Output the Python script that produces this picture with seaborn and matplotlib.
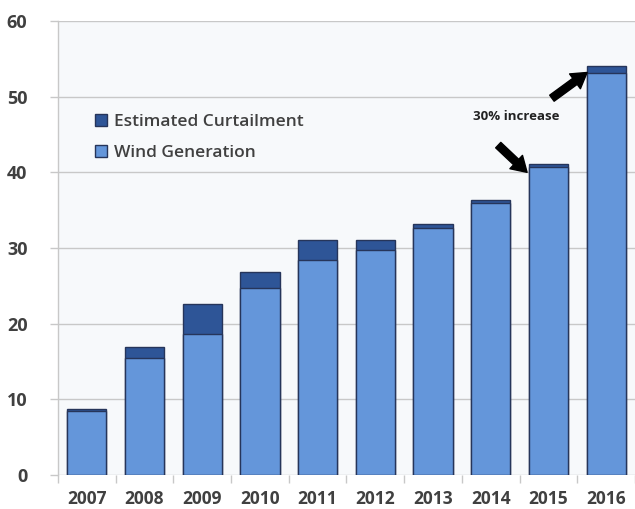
import numpy as np
import pandas as pd
import seaborn as sns
import matplotlib.pyplot as plt
from matplotlib.patches import Patch
from matplotlib.ticker import FixedLocator

years = ["2007", "2008", "2009", "2010", "2011", "2012", "2013", "2014", "2015", "2016"]
wind_generation = [8.5, 15.5, 18.7, 24.7, 28.4, 29.7, 32.7, 36.0, 40.7, 53.1]
estimated_curtailment = [0.2, 1.4, 3.9, 2.1, 2.6, 1.3, 0.5, 0.3, 0.4, 0.9]

wind_color = "#6496DA"
curtail_color = "#2E5597"
edge_color = "#26355A"
text_color = "#404040"

df = pd.DataFrame({"year": years, "wind": wind_generation, "curtail": estimated_curtailment})
df["total"] = df["wind"] + df["curtail"]

sns.set_theme(style="white")
plt.rcParams["font.family"] = ["Open Sans", "DejaVu Sans"]

fig = plt.figure(figsize=(6.35, 5.09), dpi=100)
ax = fig.add_axes([0.0913, 0.0668, 0.9087, 0.8919])
ax.set_facecolor("#F7F9FB")

# dark bar = total, light bar drawn over it = wind only
sns.barplot(data=df, x="year", y="total", color=curtail_color, width=0.68,
            edgecolor=edge_color, linewidth=1, saturation=1, ax=ax)
sns.barplot(data=df, x="year", y="wind", color=wind_color, width=0.68,
            edgecolor=edge_color, linewidth=1, saturation=1, ax=ax)

ax.set_xlim(-0.5, len(years) - 0.5)
ax.set_ylim(0, 60)
ax.set_yticks(range(0, 61, 10))
ax.yaxis.grid(True, color="#C8C8C8", linewidth=1)
ax.set_axisbelow(True)
ax.set_xlabel("")
ax.set_ylabel("")

for side in ["top", "right", "bottom"]:
    ax.spines[side].set_visible(False)
ax.spines["left"].set_color("#C8C8C8")
ax.spines["left"].set_linewidth(1)

ax.tick_params(axis="y", length=6, color="#C8C8C8", width=1, pad=16,
               labelsize=13, labelcolor=text_color, left=True)
ax.tick_params(axis="x", length=0, pad=11, labelsize=12.5, labelcolor=text_color)
for lbl in ax.get_xticklabels() + ax.get_yticklabels():
    lbl.set_fontweight("bold")

ax.xaxis.set_minor_locator(FixedLocator(np.arange(-0.5, len(years), 1.0)))
ax.tick_params(axis="x", which="minor", length=6, color="#C8C8C8", width=1, bottom=True)

handles = [Patch(facecolor=curtail_color, edgecolor=edge_color, label="Estimated Curtailment"),
           Patch(facecolor=wind_color, edgecolor=edge_color, label="Wind Generation")]
leg = ax.legend(handles=handles, loc="upper left", bbox_to_anchor=(0.037, 0.83),
                frameon=False, fontsize=12.5, handlelength=0.7, handleheight=0.7,
                handletextpad=0.4, labelspacing=0.85)
for t in leg.get_texts():
    t.set_color(text_color)
    t.set_fontweight("semibold")

ax.text(7.45, 47.4, "30% increase", ha="center", va="center",
        fontsize=9.5, fontweight="bold", color="#222222")
arrow = dict(arrowstyle="simple,head_width=1.1,head_length=0.9,tail_width=0.45",
             color="black", shrinkA=0, shrinkB=0)
ax.annotate("", xy=(7.63, 40.0), xytext=(7.13, 43.6), arrowprops=arrow)
ax.annotate("", xy=(8.67, 53.2), xytext=(8.06, 49.8), arrowprops=arrow)

fig.savefig("out.png", dpi=100)
